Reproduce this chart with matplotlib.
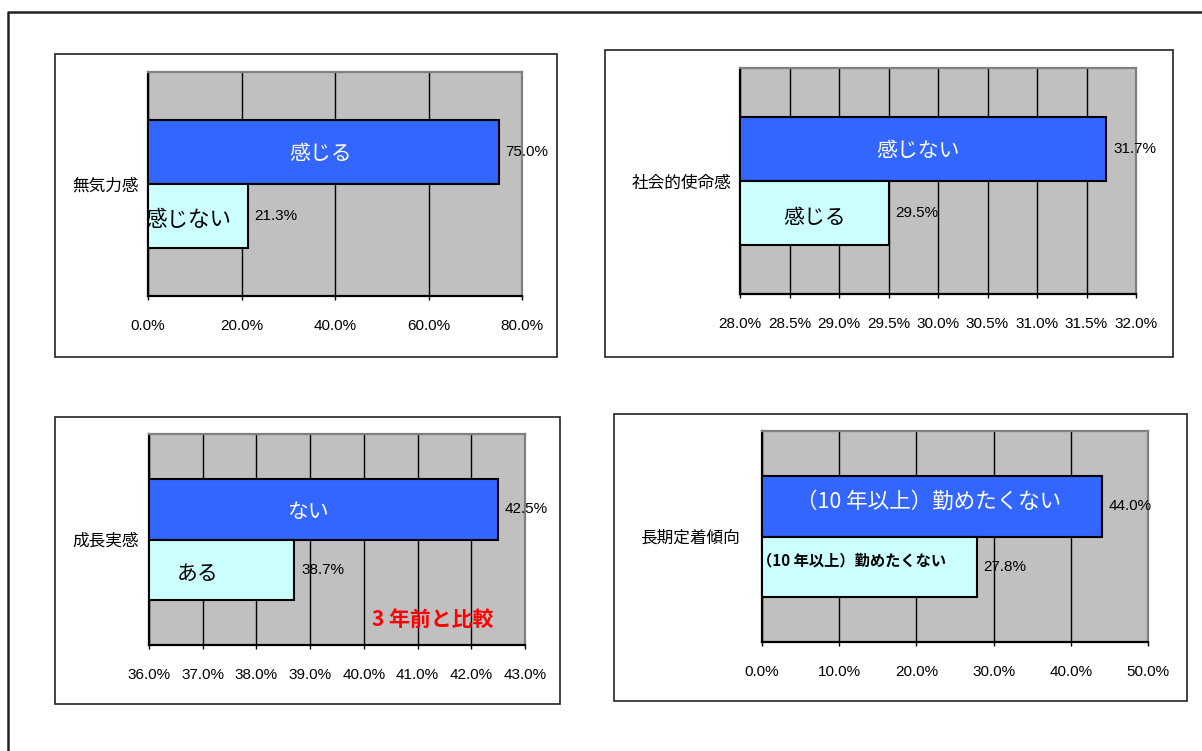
import numpy as np
import matplotlib
matplotlib.use("Agg")
import matplotlib.pyplot as plt
from matplotlib.patches import Rectangle
from matplotlib.lines import Line2D

W, H = 1202, 751
JP = ["Noto Sans CJK JP", "DejaVu Sans"]
NUM = ["Liberation Sans", "DejaVu Sans"]

BLUE = "#3366FF"
CYAN = "#CCFFFF"
GRAY = "#C0C0C0"

# survey items, one chart each
categories = ["無気力感", "社会的使命感", "成長実感", "長期定着傾向"]
blue_values = [75.0, 31.7, 42.5, 44.0]
cyan_values = [21.3, 29.5, 38.7, 27.8]
blue_labels = ["感じる", "感じない", "ない", "（10 年以上）勤めたくない"]
cyan_labels = ["感じない", "感じる", "ある", "（10 年以上）勤めたくない"]
x_min = [0.0, 28.0, 36.0, 0.0]
x_max = [80.0, 32.0, 43.0, 50.0]
x_step = [20.0, 0.5, 1.0, 10.0]

# layout in pixels: axes box (x0, x1, y0, y1) and frame box
AXES_PX = [(148, 522, 72, 296), (740, 1136, 68, 294),
           (149, 525, 434, 645), (762, 1148, 431, 642)]
FRAME_PX = [(55, 557, 54, 357), (605, 1173, 50, 357),
            (55, 560, 417, 704), (614, 1187, 414, 701)]
LABEL_PAD = [6.5, 6.5, 7.0, 16.0]
BAR_H = 0.285
NUM_SIZE = 11


def fig_rect(x0, x1, y0, y1):
    return [x0 / W, 1 - y1 / H, (x1 - x0) / W, (y1 - y0) / H]


def draw_frames(fig):
    fig.add_artist(Line2D([8 / W, 8 / W, 1], [0, 1 - 12 / H, 1 - 12 / H],
                          transform=fig.transFigure, color="#222222", lw=1.8))
    for x0, x1, y0, y1 in FRAME_PX:
        fig.add_artist(Rectangle((x0 / W, 1 - y1 / H), (x1 - x0) / W, (y1 - y0) / H,
                                 transform=fig.transFigure, fill=False,
                                 edgecolor="#222222", lw=1.2))


def draw_panel(fig, i):
    ax = fig.add_axes(fig_rect(*AXES_PX[i]))
    ax.set_facecolor(GRAY)
    ax.set_xlim(x_min[i], x_max[i])
    ax.set_ylim(-0.5, 0.5)

    # bars start at the axis minimum, so width is value - x_min
    ax.barh(BAR_H / 2, blue_values[i] - x_min[i], height=BAR_H, left=x_min[i],
            color=BLUE, edgecolor="black", lw=1.5, zorder=3)
    ax.barh(-BAR_H / 2, cyan_values[i] - x_min[i], height=BAR_H, left=x_min[i],
            color=CYAN, edgecolor="black", lw=1.5, zorder=3)

    ticks = np.arange(x_min[i], x_max[i] + x_step[i] / 2, x_step[i])
    ax.set_xticks(ticks)
    ax.set_xticklabels([f"{t:.1f}%" for t in ticks], family=NUM, fontsize=NUM_SIZE)
    ax.tick_params(axis="x", length=3, width=1, pad=13.5, color="black")
    ax.set_yticks([0])
    ax.set_yticklabels([categories[i]], family=JP, fontsize=12)
    ax.tick_params(axis="y", length=0, pad=LABEL_PAD[i])

    ax.grid(axis="x", color="black", lw=1)
    ax.set_axisbelow(True)
    for side in ["left", "bottom"]:
        ax.spines[side].set_color("black")
        ax.spines[side].set_linewidth(1.6)
    for side in ["top", "right"]:
        ax.spines[side].set_color("#808080")
        ax.spines[side].set_linewidth(1.6)

    for y, v in [(BAR_H / 2, blue_values[i]), (-BAR_H / 2, cyan_values[i])]:
        ax.annotate(f"{v:.1f}%", (v, y), xytext=(5, 0), textcoords="offset points",
                    va="center", ha="left", family=NUM, fontsize=NUM_SIZE, zorder=4)
    return ax


def bar_texts(axes):
    ax1, ax2, ax3, ax4 = axes
    yb, yc = BAR_H / 2, -BAR_H / 2

    ax1.text(37.0, yb - 0.01, blue_labels[0], color="white", ha="center",
             va="center", family=JP, fontsize=15, zorder=4)
    ax1.text(-0.6, yc - 0.02, cyan_labels[0], color="black", ha="left",
             va="center", family=JP, fontsize=15.5, zorder=4, clip_on=True)

    ax2.text(29.8, yb - 0.01, blue_labels[1], color="white", ha="center",
             va="center", family=JP, fontsize=15, zorder=4)
    ax2.text(28.75, yc - 0.02, cyan_labels[1], color="black", ha="center",
             va="center", family=JP, fontsize=15, zorder=4)

    ax3.text(38.95, yb - 0.01, blue_labels[2], color="white", ha="center",
             va="center", family=JP, fontsize=15, zorder=4)
    ax3.text(36.9, yc - 0.02, cyan_labels[2], color="black", ha="center",
             va="center", family=JP, fontsize=15, zorder=4)
    ax3.text(0.592, 0.122, "3 年前と比較", transform=ax3.transAxes, color="red",
             ha="left", va="center", family=JP, fontsize=15, fontweight="bold",
             zorder=4)

    ax4.text(21.6, yb + 0.02, blue_labels[3], color="white", ha="center",
             va="center", family=JP, fontsize=15.5, zorder=4)
    ax4.text(-0.6, yc + 0.03, cyan_labels[3], color="black", ha="left",
             va="center", family=JP, fontsize=11, fontweight="bold", zorder=4,
             clip_on=True)


def main():
    fig = plt.figure(figsize=(W / 100, H / 100), dpi=100)
    fig.patch.set_facecolor("white")
    draw_frames(fig)
    axes = [draw_panel(fig, i) for i in range(4)]
    bar_texts(axes)
    fig.savefig("out.png", dpi=100, facecolor="white")


main()
